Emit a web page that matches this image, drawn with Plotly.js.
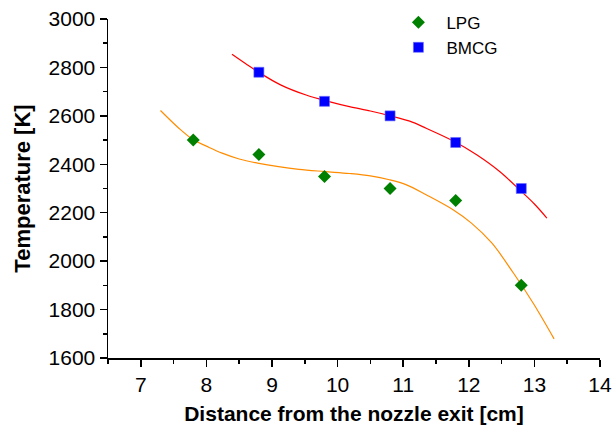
<!DOCTYPE html>
<html>
<head>
<meta charset="utf-8">
<script src="https://cdn.plot.ly/plotly-3.0.1.min.js"></script>
<style>html,body{margin:0;padding:0;background:#fff;}#chart{width:615px;height:425px;}</style>
</head>
<body>
<div id="chart"></div>
<script>
// Measured points
const distance = [7.8, 8.8, 9.8, 10.8, 11.8, 12.8];
const lpgTemp = [2500, 2440, 2350, 2300, 2250, 1900];
const bmcgDistance = [8.8, 9.8, 10.8, 11.8, 12.8];
const bmcgTemp = [2780, 2660, 2600, 2490, 2300];

// Fitted curves
const lpgFitX = [7.3, 7.58, 7.8, 8.0, 8.24, 8.5, 8.78, 9.1, 9.41, 9.8, 10.18, 10.5, 10.79, 11.05, 11.35, 11.76, 12.04, 12.35, 12.68, 12.98, 13.3];
const lpgFitY = [2622, 2549, 2501, 2475, 2446, 2422, 2405, 2390, 2379, 2370, 2362, 2352, 2336, 2315, 2274, 2212, 2157, 2075, 1951, 1827, 1679];
const bmcgFitX = [8.39, 8.6, 8.78, 9.13, 9.52, 9.87, 10.18, 10.5, 10.79, 11.1, 11.35, 11.78, 12.12, 12.47, 12.8, 13.0, 13.19];
const bmcgFitY = [2854, 2815, 2783, 2728, 2686, 2659, 2638, 2620, 2601, 2578, 2549, 2494, 2439, 2370, 2288, 2236, 2178];

const xTicks = [7, 8, 9, 10, 11, 12, 13, 14];
const yTicks = [1600, 1800, 2000, 2200, 2400, 2600, 2800, 3000];

const FONT = 'Arial, "Liberation Sans", sans-serif';

const traces = [
  {x: lpgFitX, y: lpgFitY, mode: 'lines', line: {color: '#FF8C00', width: 1.2, shape: 'spline'}, showlegend: false, hoverinfo: 'skip'},
  {x: bmcgFitX, y: bmcgFitY, mode: 'lines', line: {color: '#FF0000', width: 1.2, shape: 'spline'}, showlegend: false, hoverinfo: 'skip'},
  {x: distance, y: lpgTemp, mode: 'markers', name: 'LPG', marker: {symbol: 'diamond', size: 10, color: '#008000'}},
  {x: bmcgDistance, y: bmcgTemp, mode: 'markers', name: 'BMCG', marker: {symbol: 'square', size: 10, color: '#0000FF', line: {color: '#6a6aff', width: 0.6}}}
];

const layout = {
  width: 615, height: 425,
  margin: {l: 108, r: 15, t: 19, b: 67, autoexpand: false},
  paper_bgcolor: '#fff', plot_bgcolor: '#fff',
  font: {family: FONT, color: '#000'},
  showlegend: true,
  legend: {x: 0.574, y: 0.989, xref: 'paper', yref: 'container', xanchor: 'left', yanchor: 'top', bgcolor: 'rgba(0,0,0,0)', font: {size: 17, family: FONT}, itemwidth: 46, tracegroupgap: 0},
  xaxis: {
    range: [6.5, 14], tickvals: xTicks, ticktext: xTicks.map(String),
    showgrid: false, zeroline: false, showline: true, linecolor: '#000', linewidth: 1.5,
    ticks: 'outside', ticklen: 7, tickwidth: 1.5, tickcolor: '#000',
    tickfont: {size: 21, family: FONT},
    minor: {dtick: 0.5, tick0: 6.5, ticks: 'outside', ticklen: 4, tickwidth: 1.5, tickcolor: '#000', showgrid: false},
    title: {text: '<b>Distance from the nozzle exit [cm]</b>', font: {size: 21, family: FONT}, standoff: 12}
  },
  yaxis: {
    range: [1600, 3000], tickvals: yTicks, ticktext: yTicks.map(String),
    showgrid: false, zeroline: false, showline: true, linecolor: '#000', linewidth: 1.5,
    ticks: 'outside', ticklen: 7, tickwidth: 1.5, tickcolor: '#000',
    tickfont: {size: 21, family: FONT},
    minor: {dtick: 100, ticks: 'outside', ticklen: 4, tickwidth: 1.5, tickcolor: '#000', showgrid: false},
    title: {text: '<b>Temperature [K]</b>', font: {size: 22, family: FONT}, standoff: 12}
  }
};

Plotly.newPlot('chart', traces, layout, {displayModeBar: false, staticPlot: true});
</script>
</body>
</html>
